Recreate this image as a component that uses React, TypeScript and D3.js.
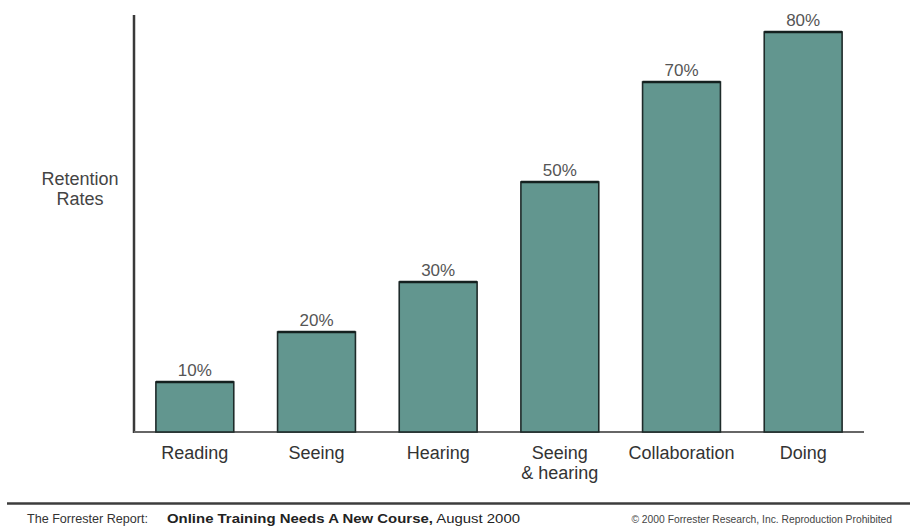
import React from "react";
import * as d3 from "d3";

const categories: string[][] = [["Reading"], ["Seeing"], ["Hearing"], ["Seeing", "& hearing"], ["Collaboration"], ["Doing"]];
const values: number[] = [10, 20, 30, 50, 70, 80];
const valueLabels: string[] = ["10%", "20%", "30%", "50%", "70%", "80%"];
const yAxisTitle: string[] = ["Retention", "Rates"];
const footerLeft = "The Forrester Report:";
const footerBold = "Online Training Needs A New Course,";
const footerDate = " August 2000";
const footerRight = "\u00a9 2000 Forrester Research, Inc. Reproduction Prohibited";

const W = 910;
const H = 532;
const FONT = "'Liberation Sans', Arial, sans-serif";

export default function App() {
  const x0 = 134, x1 = 864, yBase = 432, yTop = 15;
  const x = d3.scaleBand<number>().domain(d3.range(values.length)).range([x0, x1]).paddingInner(0.36).paddingOuter(0.18);
  const y = d3.scaleLinear().domain([0, 83.4]).range([yBase, yTop]);
  const fill = "#62968f";

  return (
    <svg width={W} height={H} style={{ position: "absolute", left: 0, top: 0, background: "#fff" }} fontFamily={FONT}>
      <rect x={0} y={0} width={W} height={H} fill="#fff" />
      {/* y axis */}
      <line x1={x0} x2={x0} y1={yTop} y2={yBase + 1} stroke="#3a3a3a" strokeWidth={2.5} />
      {/* baseline */}
      <line x1={x0} x2={x1} y1={yBase} y2={yBase} stroke="#666" strokeWidth={2} />
      {values.map((v, i) => {
        const bx = x(i)!;
        const bw = x.bandwidth();
        const by = y(v);
        return (
          <g key={i}>
            <rect x={bx} y={by} width={bw} height={yBase - by} fill={fill} stroke="#1e2b2a" strokeWidth={1.6} />
            <line x1={bx} x2={bx + bw} y1={by} y2={by} stroke="#14201f" strokeWidth={2.5} />
            <text x={bx + bw / 2} y={by - 6} textAnchor="middle" fontSize={17} fill="#555">{valueLabels[i]}</text>
            {categories[i].map((c, j) => (
              <text key={j} x={bx + bw / 2} y={459 + j * 20} textAnchor="middle" fontSize={18} fill="#333">{c}</text>
            ))}
          </g>
        );
      })}
      {yAxisTitle.map((t, j) => (
        <text key={j} x={80} y={185 + j * 20} textAnchor="middle" fontSize={18} fill="#444">{t}</text>
      ))}
      {/* footer */}
      <line x1={7} x2={W} y1={503.5} y2={503.5} stroke="#3c3c3c" strokeWidth={2.5} />
      <text x={27} y={523} fontSize={13} fill="#333" textLength={121} lengthAdjust="spacingAndGlyphs">{footerLeft}</text>
      <text x={167} y={523} fontSize={13} fill="#222" textLength={353} lengthAdjust="spacingAndGlyphs">
        <tspan fontWeight="bold">{footerBold}</tspan>
        <tspan>{footerDate}</tspan>
      </text>
      <text x={892} y={523} textAnchor="end" fontSize={10.3} fill="#444">{footerRight}</text>
    </svg>
  );
}
